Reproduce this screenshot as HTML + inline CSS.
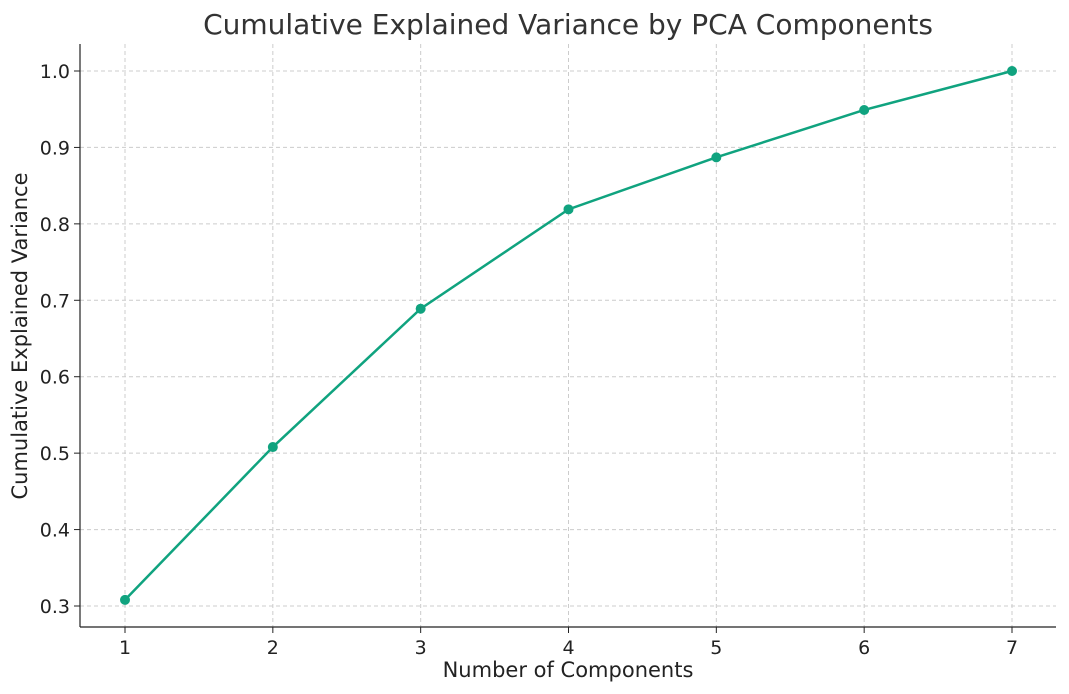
<!DOCTYPE html>
<html><head><meta charset="utf-8">
<style>
html,body{margin:0;padding:0;background:#fff;}
svg{display:block;font-family:"DejaVu Sans","Liberation Sans",sans-serif;}
</style></head>
<body>
<svg id="chart" width="1069" height="694" viewBox="0 0 1069 694">
  <text x="568" y="34" text-anchor="middle" font-size="28" fill="#333">Cumulative Explained Variance by PCA Components</text>
  <g id="grid"></g>
  <g id="axes"></g>
  <g id="series"></g>
  <text x="568" y="677" text-anchor="middle" font-size="21" fill="#222">Number of Components</text>
  <text transform="translate(27,336) rotate(-90)" text-anchor="middle" font-size="21" fill="#222">Cumulative Explained Variance</text>
</svg>
<script>
const components = [1,2,3,4,5,6,7];
const cumVariance = [0.308,0.508,0.689,0.819,0.887,0.949,1.0];
const yTicks = [0.3,0.4,0.5,0.6,0.7,0.8,0.9,1.0];
const yTickLabels = ["0.3","0.4","0.5","0.6","0.7","0.8","0.9","1.0"];

const NS="http://www.w3.org/2000/svg";
const L=80,R=1056,T=44,B=627;
function xS(v){return 125+(v-1)*(1012-125)/6;}
function yS(v){return 606-(v-0.3)*(606-71)/0.7;}
function mk(tag,attrs,parent){const e=document.createElementNS(NS,tag);for(const k in attrs)e.setAttribute(k,attrs[k]);parent.appendChild(e);return e;}
const grid=document.getElementById('grid'),axes=document.getElementById('axes'),series=document.getElementById('series');

components.forEach(c=>{
  const x=xS(c);
  const g=mk('line',{x1:x,x2:x,y1:T,y2:B,stroke:'#ccc','stroke-dasharray':'4,3','stroke-width':1},grid);
  
  
  const t=mk('line',{x1:x,x2:x,y1:B,y2:B+6,stroke:'#222','stroke-width':1},axes);
  
  
  const lb=mk('text',{x:x,y:B+27,'text-anchor':'middle','font-size':19,fill:'#222'},axes);
  lb.textContent=String(c);
  
  
});
yTicks.forEach((v,i)=>{
  const y=yS(v);
  const g=mk('line',{x1:L,x2:R,y1:y,y2:y,stroke:'#ccc','stroke-dasharray':'4,3','stroke-width':1},grid);
  
  
  const t=mk('line',{x1:L-6,x2:L,y1:y,y2:y,stroke:'#222','stroke-width':1},axes);
  
  
  const lb=mk('text',{x:L-10,y:y+7,'text-anchor':'end','font-size':19,fill:'#222'},axes);
  lb.textContent=yTickLabels[i];
  
  
});
const sl=mk('line',{x1:L,x2:L,y1:T,y2:B,stroke:'#222','stroke-width':1.2},axes);


const sb=mk('line',{x1:L,x2:R,y1:B,y2:B,stroke:'#222','stroke-width':1.2},axes);



const pts=components.map((c,i)=>xS(c)+','+yS(cumVariance[i])).join(' ');
const pl=mk('polyline',{points:pts,fill:'none',stroke:'#10a37f','stroke-width':2.5},series);


components.forEach((c,i)=>{
  const p=mk('circle',{cx:xS(c),cy:yS(cumVariance[i]),r:5,fill:'#10a37f'},series);
  
  
});
</script>
</body></html>
